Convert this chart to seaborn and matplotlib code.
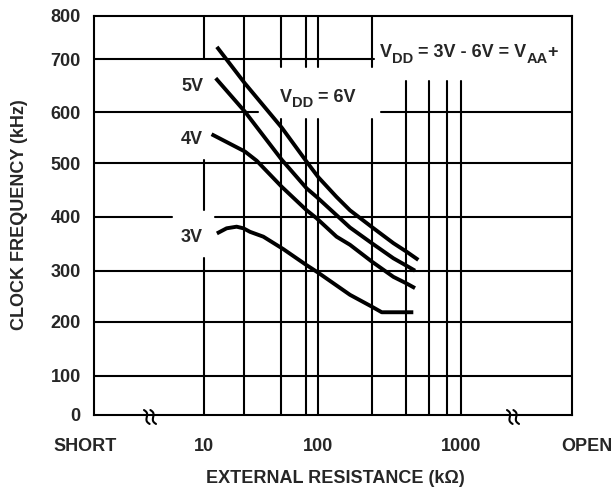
import numpy as np
import pandas as pd
import matplotlib
matplotlib.use("Agg")
import matplotlib.pyplot as plt
from matplotlib.lines import Line2D
import seaborn as sns

# ---------------- data ----------------
res_6v = [12.5, 20.5, 50.7, 81, 100.5, 137, 172, 249, 336, 405, 497]
frq_6v = [728, 654, 570, 503, 474, 437, 412, 381, 351, 335, 320]
res_5v = [12.25, 20.5, 50.7, 81, 97.6, 172, 249, 336, 405, 469]
frq_5v = [664, 601, 507, 453, 437, 380, 351, 323, 309, 300]
res_4v = [11.4, 20.5, 27.4, 50.7, 81, 97.6, 137, 172, 249, 336, 405, 469]
frq_4v = [557, 523, 505, 456, 412, 397, 363, 348, 317, 288, 275, 266]
res_3v = [12.5, 14.8, 17.6, 19.8, 23.2, 32.3, 52.2, 80, 100.5, 172, 249, 286, 455]
frq_3v = [369, 378.5, 381.5, 378.5, 372, 363, 340, 311, 296, 253, 230, 219, 219]

x_ticks = [10, 100, 1000]
x_ticklabels = ["10", "100", "1000"]
y_ticks = [0, 100, 200, 300, 400, 500, 600, 700, 800]
x_grid = [10, 20, 50, 80, 100, 250, 400, 600, 800, 1000]

df = pd.concat([
    pd.DataFrame({"res": res_6v, "freq": frq_6v, "vdd": "6V"}),
    pd.DataFrame({"res": res_5v, "freq": frq_5v, "vdd": "5V"}),
    pd.DataFrame({"res": res_4v, "freq": frq_4v, "vdd": "4V"}),
    pd.DataFrame({"res": res_3v, "freq": frq_3v, "vdd": "3V"}),
], ignore_index=True)

# ---------------- style ----------------
sns.set_style("white")
plt.rcParams["font.family"] = ["Liberation Sans", "DejaVu Sans"]
plt.rcParams["font.weight"] = "bold"

FS = 13
SUB = 10.5


def piecewise(xp, fp):
    xp = np.asarray(xp, float)
    fp = np.asarray(fp, float)

    def f(v):
        v = np.asarray(v, float)
        shp = v.shape
        v1 = np.atleast_1d(v).astype(float)
        out = np.interp(v1, xp, fp)
        lo = v1 < xp[0]
        hi = v1 > xp[-1]
        out[lo] = fp[0] + (v1[lo] - xp[0]) * (fp[1] - fp[0]) / (xp[1] - xp[0])
        out[hi] = fp[-1] + (v1[hi] - xp[-1]) * (fp[-1] - fp[-2]) / (xp[-1] - xp[-2])
        out[np.isnan(v1)] = np.nan
        return out.reshape(shp)
    return f


# hand-drawn (non-uniform) axes of the original datasheet chart
xa_val = np.log10([1, 10, 20, 50, 80, 100, 250, 400, 600, 800, 1000, 10000])
xa_pos = np.array([0, 110, 150, 187, 212, 224, 278, 312, 335, 353, 367, 478], float)
_xf = piecewise(xa_val, xa_pos)
_xi = piecewise(xa_pos, xa_val)


def x_fwd(v):
    v = np.asarray(v, float)
    with np.errstate(divide="ignore", invalid="ignore"):
        lv = np.where(v > 0, np.log10(np.where(v > 0, v, 1.0)), np.nan)
    return _xf(lv)


def x_inv(p):
    return 10.0 ** _xi(p)


ya_val = np.array(y_ticks, float)
ya_pos = np.array([0, 38.5, 92.5, 143.8, 197.8, 251.2, 302.2, 355.5, 398.8])
y_fwd = piecewise(ya_val, ya_pos)
y_inv = piecewise(ya_pos, ya_val)

W, H = 614, 488
fig = plt.figure(figsize=(W / 100, H / 100), dpi=100)
ax = fig.add_axes([94 / W, 1 - 414.5 / H, 478 / W, 398.8 / H])
ax.set_xscale("function", functions=(x_fwd, x_inv))
ax.set_yscale("function", functions=(y_fwd, y_inv))
ax.set_xlim(1, 10000)
ax.set_ylim(0, 800)

GW = 1.5
# horizontal grid (segments interrupted by the annotation areas)
for yv in [100, 200, 300, 500]:
    ax.axhline(yv, 0, 1, color="black", lw=GW, zorder=1)
ax.axhline(700, 0, 0.586, color="black", lw=GW, zorder=1)
ax.axhline(600, 0, 0.343, color="black", lw=GW, zorder=1)
ax.axhline(600, 0.600, 1, color="black", lw=GW, zorder=1)
ax.axhline(400, 0, 0.163, color="black", lw=GW, zorder=1)
ax.axhline(400, 0.253, 1, color="black", lw=GW, zorder=1)

# vertical grid
ax.axvline(x_grid[0], 0.894, 1, color="black", lw=GW, zorder=1)
ax.axvline(x_grid[0], 0.513, 0.638, color="black", lw=GW, zorder=1)
ax.axvline(x_grid[0], 0, 0.392, color="black", lw=GW, zorder=1)
ax.axvline(x_grid[1], 0, 1, color="black", lw=GW, zorder=1)
for xv in x_grid[2:6]:
    ax.axvline(xv, 0, 0.741, color="black", lw=GW, zorder=1)
    ax.axvline(xv, 0.871, 1, color="black", lw=GW, zorder=1)
for xv in x_grid[6:]:
    ax.axvline(xv, 0, 0.836, color="black", lw=GW, zorder=1)

sns.lineplot(data=df, x="res", y="freq", hue="vdd", units="vdd", estimator=None,
             palette=["black"] * 4, legend=False, lw=2.8, ax=ax, zorder=3,
             solid_capstyle="butt", sort=False)

for sp in ax.spines.values():
    sp.set_visible(True)
    sp.set_color("black")
    sp.set_linewidth(GW)
    sp.set_zorder(4)

ax.set_xticks(x_ticks)
ax.set_xticklabels(x_ticklabels)
ax.set_xticks([], minor=True)
ax.set_yticks(y_ticks)
ax.set_yticklabels([str(v) for v in y_ticks])
ax.set_yticks([], minor=True)
ax.tick_params(axis="x", length=12.5, width=GW, direction="out", pad=4.5,
               labelsize=FS, color="black")
ax.tick_params(axis="y", length=0, pad=9.5, labelsize=FS)
ax.grid(False)

ax.set_xlabel("EXTERNAL RESISTANCE (k\u03a9)", fontsize=FS, fontweight="bold")
ax.set_ylabel("CLOCK FREQUENCY (kHz)", fontsize=FS, fontweight="bold")
ax.xaxis.set_label_coords(0.506, -0.14)
ax.yaxis.set_label_coords(-0.138, 0.5)

ax.text(-0.018, -0.059, "SHORT", transform=ax.transAxes, ha="center", va="top", fontsize=FS)
ax.text(1.032, -0.059, "OPEN", transform=ax.transAxes, ha="center", va="top", fontsize=FS)

# axis-break squiggles on the x axis
t = np.linspace(-1, 1, 40)
u = 7.5 * t
v = 1.6 * np.sin(np.pi * t)
ang = np.deg2rad(68)
for cx in (150, 513):
    for dx in (-3.2, 3.2):
        px = cx + dx + u * np.cos(ang) - v * np.sin(ang)
        py = 417 + u * np.sin(ang) + v * np.cos(ang)
        fig.add_artist(Line2D(px / W, py[::-1] * 0 + (H - py) / H, color="black",
                              lw=1.5, transform=fig.transFigure, zorder=6))

ax.text(0.228, 0.822, "5V", transform=ax.transAxes, ha="right", va="center", fontsize=FS)
ax.text(0.228, 0.690, "4V", transform=ax.transAxes, ha="right", va="center", fontsize=FS)
ax.text(0.228, 0.444, "3V", transform=ax.transAxes, ha="right", va="center", fontsize=FS)


def chained(x, y, pieces):
    """Text made of pieces (text, size, baseline offset in points)."""
    txt, fs, dy = pieces[0]
    prev = ax.text(x, y, txt, transform=ax.transAxes, ha="left", va="baseline", fontsize=fs)
    prev_dy = dy
    for txt, fs, dy in pieces[1:]:
        prev = ax.annotate(txt, xy=(1, 0), xycoords=prev, xytext=(0, dy - prev_dy),
                           textcoords="offset points", ha="left", va="bottom", fontsize=fs)
        prev_dy = dy


chained(0.389, 0.784, [("V", FS, 0), ("DD", SUB, -3.2), (" = 6V", FS, 0)])
chained(0.598, 0.896, [("V", FS, 0), ("DD", SUB, -3.2), (" = 3V - 6V = V", FS, 0),
                       ("AA", SUB, -3.2), ("+", FS, 0)])

fig.savefig("out.png", dpi=100)
